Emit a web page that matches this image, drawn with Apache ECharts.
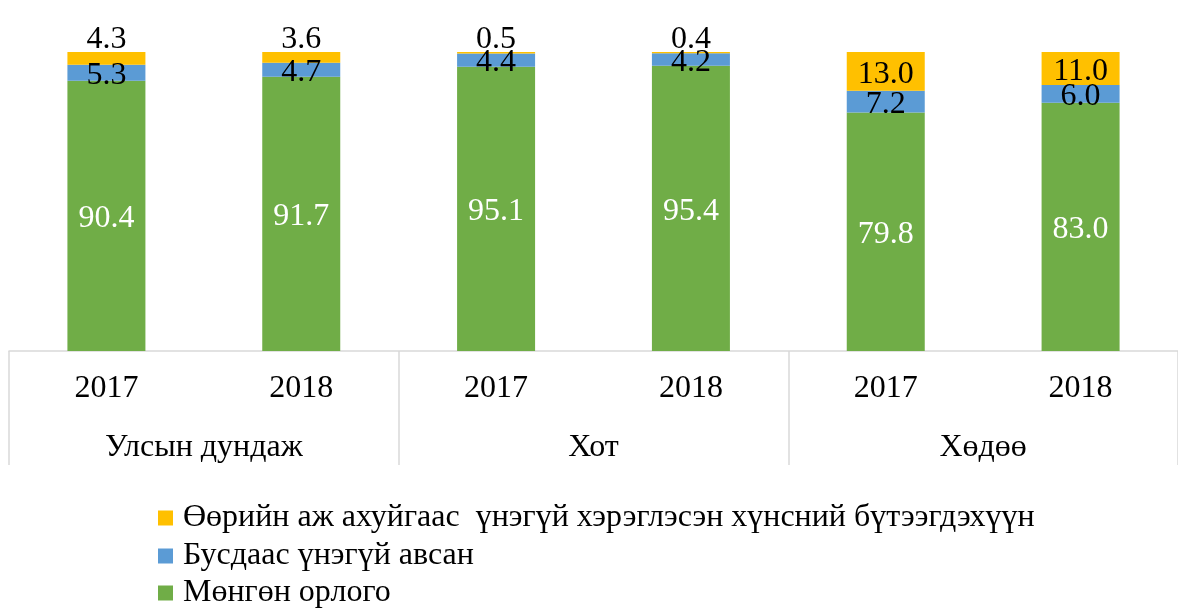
<!DOCTYPE html>
<html>
<head>
<meta charset="utf-8">
<script src="https://cdn.jsdelivr.net/npm/echarts@6/dist/echarts.min.js"></script>
<style>
  html, body { margin: 0; padding: 0; background: #fff; }
  #chart { width: 1178px; height: 610px; }
</style>
</head>
<body>
<div id="chart"></div>
<script>
// categories
var years = ["2017", "2018", "2017", "2018", "2017", "2018"];
var groups = ["Улсын дундаж", "Хот", "Хөдөө"];

// series values (%)
var moneyIncome = [90.4, 91.7, 95.1, 95.4, 79.8, 83.0];
var freeFromOthers = [5.3, 4.7, 4.4, 4.2, 7.2, 6.0];
var ownProduction = [4.3, 3.6, 0.5, 0.4, 13.0, 11.0];

var names = [
  "Мөнгөн орлого",
  "Бусдаас үнэгүй авсан",
  "Өөрийн аж ахуйгаас  үнэгүй хэрэглэсэн хүнсний бүтээгдэхүүн"
];

var font = "'Liberation Serif', 'Times New Roman', serif";
var chart = echarts.init(document.getElementById("chart"));

// small top segments get their label above the bar
var ownData = ownProduction.map(function (v) {
  var item = { value: v };
  if (v < 5) {
    item.label = { position: "top", distance: -4, offset: [0, 0] };
  }
  return item;
});

var labelFmt = function (p) {
  return Number(p.value).toFixed(1);
};

// one legend per row so they stack without wrapping
function legendRow(name, top) {
  return {
    data: [name],
    left: 158,
    top: top,
    padding: 0,
    itemWidth: 25,
    itemHeight: 15,
    icon: "path://M0,0h10v10h-10z",
    textStyle: { fontFamily: font, fontSize: 32, color: "#000" }
  };
}

chart.setOption({
  animation: false,
  textStyle: { fontFamily: font },
  grid: { left: 9, top: 52, width: 1179, height: 299 },
  legend: [
    legendRow(names[2], 502),
    legendRow(names[1], 540),
    legendRow(names[0], 577)
  ],
  xAxis: [
    {
      type: "category",
      data: years,
      position: "bottom",
      axisLine: { show: false },
      axisTick: { show: false },
      axisLabel: { fontFamily: font, fontSize: 32, color: "#000", margin: 22 }
    },
    {
      type: "category",
      data: groups,
      position: "bottom",
      axisLine: { lineStyle: { color: "#d9d9d9", width: 1.5 } },
      axisTick: { show: true, length: 114, lineStyle: { color: "#d9d9d9", width: 1.5 } },
      axisLabel: { fontFamily: font, fontSize: 32, color: "#000", margin: 81 }
    }
  ],
  yAxis: { type: "value", min: 0, max: 100, show: false },
  series: [
    {
      name: names[0],
      type: "bar",
      stack: "total",
      barWidth: 78,
      data: moneyIncome,
      itemStyle: { color: "#70AD47" },
      label: { show: true, position: "inside", offset: [0, 3], color: "#fff", fontFamily: font, fontSize: 32, formatter: labelFmt }
    },
    {
      name: names[1],
      type: "bar",
      stack: "total",
      data: freeFromOthers,
      itemStyle: { color: "#5B9BD5" },
      label: { show: true, position: "inside", offset: [0, 3], color: "#000", fontFamily: font, fontSize: 32, formatter: labelFmt }
    },
    {
      name: names[2],
      type: "bar",
      stack: "total",
      data: ownData,
      itemStyle: { color: "#FFC000" },
      label: { show: true, position: "inside", offset: [0, 3], color: "#000", fontFamily: font, fontSize: 32, formatter: labelFmt }
    }
  ]
});
</script>
</body>
</html>
